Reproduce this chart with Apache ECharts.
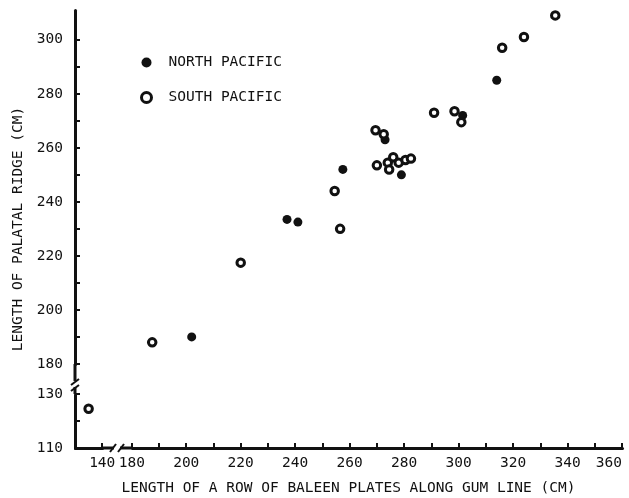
<!DOCTYPE html>
<html><head><meta charset="utf-8">
<script src="https://cdn.jsdelivr.net/npm/echarts@6/dist/echarts.min.js"></script>
<style>html,body{margin:0;padding:0;background:#fff}#c{width:629px;height:498px}</style>
</head><body><div id="c"></div>
<script>
// Data (x: baleen row length cm, y: palatal ridge length cm)
const northPacific = [
  [202, 190], [237, 233.5], [241, 232.5], [257.5, 252], [273, 263],
  [279, 250], [301.5, 272], [314, 285]
];
const southPacific = [
  [135, 124.5], [187.5, 188], [220, 217.5], [254.5, 244], [256.5, 230],
  [269.5, 266.5], [272.5, 265], [270, 253.5], [274, 254.5], [276, 256.5],
  [274.5, 252], [278, 254.5], [280.5, 255.5], [282.5, 256], [291, 273],
  [298.5, 273.5], [301, 269.5], [316, 297], [324, 301], [335.5, 309]
];
const xLabelValues = [140, 180, 200, 220, 240, 260, 280, 300, 320, 340, 360];
const xTickValues = [140, 180, 190, 200, 210, 220, 230, 240, 250, 260, 270, 280, 290, 300, 310, 320, 330, 340, 350, 360];
const yLabelValues = [110, 130, 180, 200, 220, 240, 260, 280, 300];
const yTickValues = [110, 120, 130, 180, 190, 200, 210, 220, 230, 240, 250, 260, 270, 280, 290, 300];
const xBreak = [140, 180];
const yBreak = [130, 180];
const seriesNames = ['NORTH PACIFIC', 'SOUTH PACIFIC'];
const xTitle = 'LENGTH OF A ROW OF BALEEN PLATES ALONG GUM LINE (CM)';
const yTitle = 'LENGTH OF PALATAL RIDGE (CM)';

const font = 'DejaVu Sans Mono';
const ink = '#111';
const chart = echarts.init(document.getElementById('c'), null, {renderer: 'canvas'});
chart.setOption({
  animation: false,
  backgroundColor: '#fff',
  grid: {left: 75, right: 7, top: 10, bottom: 50, containLabel: false, outerBoundsMode: 'none'},
  legend: {
    orient: 'vertical', left: 135, top: 50, itemGap: 20,
    itemWidth: 34, itemHeight: 10,
    textStyle: {fontFamily: font, fontSize: 14.5, color: ink},
    data: [
      {name: seriesNames[0], icon: 'circle', itemStyle: {color: ink}},
      {name: seriesNames[1], icon: 'circle', itemStyle: {color: '#fff', borderColor: ink, borderWidth: 3}}
    ]
  },
  xAxis: {
    type: 'value', min: 130, max: 360,
    breaks: [{start: xBreak[0], end: xBreak[1], gap: '5.4%'}],
    breakArea: {show: false},
    axisLine: {show: true, onZero: false, lineStyle: {color: ink, width: 3}},
    axisTick: {show: true, inside: true, length: 5, lineStyle: {color: ink, width: 2}, customValues: xTickValues},
    axisLabel: {customValues: xLabelValues, fontFamily: font, fontSize: 14.5, color: ink, margin: 8, alignMaxLabel: 'right'},
    splitLine: {show: false},
    name: xTitle, nameLocation: 'middle', nameGap: 33,
    nameTextStyle: {fontFamily: font, fontSize: 14.5, color: ink}
  },
  yAxis: {
    type: 'value', min: 110, max: 311,
    breaks: [{start: yBreak[0], end: yBreak[1], gap: '6.85%'}],
    breakArea: {show: false},
    axisLine: {show: true, onZero: false, lineStyle: {color: ink, width: 3}},
    axisTick: {show: true, inside: true, length: 5, lineStyle: {color: ink, width: 2}, customValues: yTickValues},
    axisLabel: {customValues: yLabelValues, fontFamily: font, fontSize: 14.5, color: ink, margin: 12},
    splitLine: {show: false},
    name: yTitle, nameLocation: 'middle', nameGap: 41,
    nameTextStyle: {fontFamily: font, fontSize: 14.5, color: ink}
  },
  series: [
    {name: seriesNames[0], type: 'scatter', data: northPacific, symbol: 'circle', symbolSize: 9,
     itemStyle: {color: ink, opacity: 1}},
    {name: seriesNames[1], type: 'scatter', data: southPacific, symbol: 'circle', symbolSize: 7.5,
     itemStyle: {color: '#fff', borderColor: ink, borderWidth: 3, opacity: 1}}
  ]
});

// axis-break marks placed from the library's own scale
const xa = chart.convertToPixel({xAxisIndex: 0}, xBreak[0]);
const xb = chart.convertToPixel({xAxisIndex: 0}, xBreak[1]);
const ya = chart.convertToPixel({yAxisIndex: 0}, yBreak[0]);
const yb = chart.convertToPixel({yAxisIndex: 0}, yBreak[1]);
const x0 = chart.convertToPixel({xAxisIndex: 0}, 130);
const y0 = chart.convertToPixel({yAxisIndex: 0}, 110);
const cx = (xa + xb) / 2, cy = (ya + yb) / 2 + 5;
chart.setOption({
  graphic: [
    {type: 'line', shape: {x1: xa, y1: y0, x2: xb, y2: y0}, style: {stroke: ink, lineWidth: 3}, z: 99},
    {type: 'line', shape: {x1: x0, y1: ya, x2: x0, y2: yb}, style: {stroke: ink, lineWidth: 3}, z: 99},
    {type: 'rect', shape: {x: cx - 3, y: y0 - 3, width: 6, height: 6}, style: {fill: '#fff'}, z: 100},
    {type: 'line', shape: {x1: cx - 7, y1: y0 + 4, x2: cx - 1, y2: y0 - 4}, style: {stroke: ink, lineWidth: 2}, z: 101},
    {type: 'line', shape: {x1: cx + 1, y1: y0 + 4, x2: cx + 7, y2: y0 - 4}, style: {stroke: ink, lineWidth: 2}, z: 101},
    {type: 'rect', shape: {x: x0 - 3, y: cy - 3, width: 6, height: 6}, style: {fill: '#fff'}, z: 100},
    {type: 'line', shape: {x1: x0 - 4, y1: cy + 1, x2: x0 + 4, y2: cy - 5}, style: {stroke: ink, lineWidth: 2}, z: 101},
    {type: 'line', shape: {x1: x0 - 4, y1: cy + 7, x2: x0 + 4, y2: cy + 1}, style: {stroke: ink, lineWidth: 2}, z: 101}
  ]
});
</script>
</body></html>
